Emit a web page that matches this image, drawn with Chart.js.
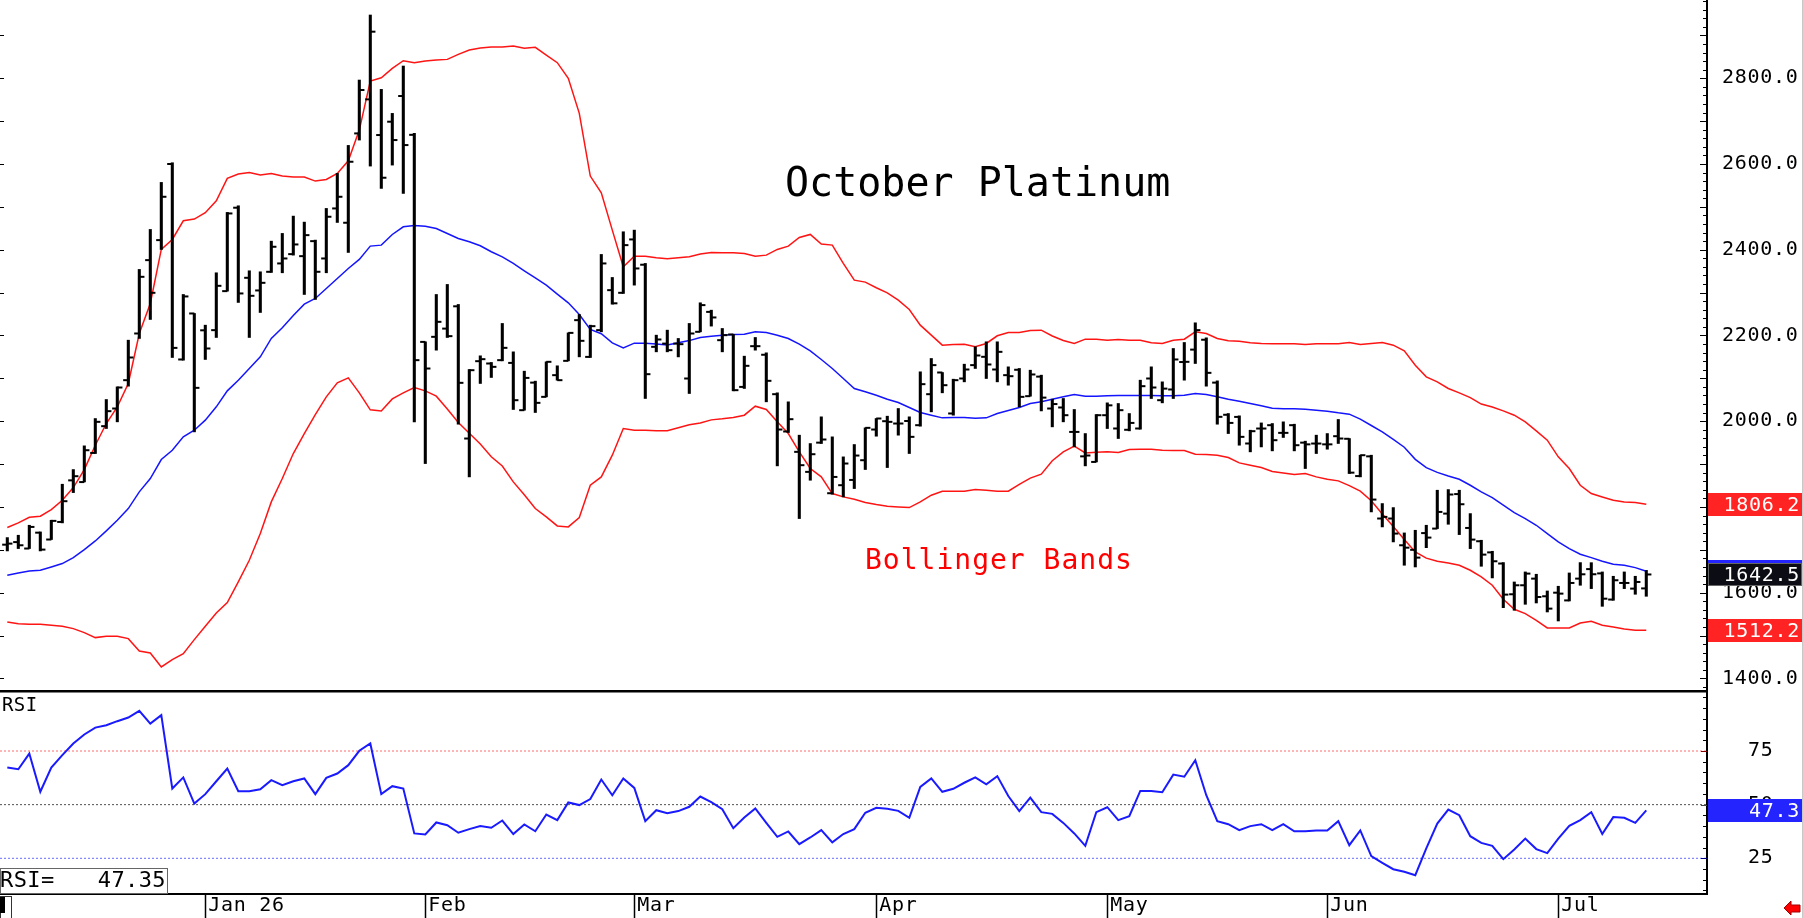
<!DOCTYPE html>
<html>
<head>
<meta charset="utf-8">
<title>October Platinum</title>
<script src="https://cdn.jsdelivr.net/npm/chart.js@4.4.1/dist/chart.umd.min.js"></script>
<style>
html,body{margin:0;padding:0;background:#fff;}
#wrap{position:relative;width:1803px;height:918px;overflow:hidden;background:#fff;}
#pricePane{position:absolute;left:0;top:0;}
#rsiPane{position:absolute;left:0;top:690px;}
</style>
</head>
<body>
<div id="wrap">
  <canvas id="pricePane" width="1803" height="690"></canvas>
  <canvas id="rsiPane" width="1803" height="228"></canvas>
</div>
<script>
/* ==========================================
   DATA (daily bars, index 0 = first bar)
========================================== */
const opens = [
1712,1718,1703,1740,1724,1765,1862,1858,1926,1988.4,2029.6,2095.7,2204.6,2375.7,2422.4,2600,2144,2251.3,2212,2212.4,
2303.4,2498,2334.5,2305,2348.5,2368,2389.7,2385,2420,2379.6,2496.3,2462.9,2671.3,2750.7,2667.5,2698.6,2758.5,2668,2185,2196.8,
2216,2268,1959.6,2140,2134.6,2142.4,2136,2025.7,2090,2056.8,2107.4,2140.8,2235.7,2150,2212.4,2305.7,2299.5,2424,2365,2173.5,
2181,2181,2099.6,2208.5,2255,2189,2202.3,2080,2175,2155,2063,1976,1928.5,1881.8,1950,1832,1850.7,1863,1909,1980.6,
2000,1994.6,2000.5,1990.7,2063,2113.6,2018,2099.6,2130.8,2150.2,2120.6,2107.4,2120,2058.4,2104,2029.6,2032,1975,1918,1905,
2014,1983,1980,1983,2099.6,2049,2074,2138,2167,2190,2090,2015,2010,1948,1982.9,1990.7,1972.8,1990.7,1950,1947.9,
1946,1965,1959,1872,1918,1773,1773,1710.6,1700,1739,1749.5,1784.5,1830,1751,1720,1694,1668,1596.3,1617.3,1632.8,
1591.6,1600,1582,1632.8,1655,1645,1584,1622.7,1609.5,1610
];
const highs = [
1728.5,1734,1757.3,1741.7,1769,1853,1887.2,1942.5,2006.2,2050.6,2080.1,2189,2354,2447.3,2557,2602.9,2295.6,2251.3,2224,2346.2,
2487,2502.5,2350.9,2348.5,2420,2438,2478.4,2464.4,2422.4,2496.3,2578,2643.3,2795.8,2947.5,2774,2718,2828.5,2671.3,2185.2,2295.6,
2319,2272.3,2120.6,2152.5,2137,2228,2161.8,2116.7,2093.4,2138.5,2129.2,2206,2248.9,2224,2389,2335.3,2441.9,2445.7,2368,2200.7,
2212.4,2193,2228,2276.2,2259,2216.3,2202.3,2151.7,2195.3,2159.5,2066.2,2045.2,1967.4,1947.9,2010.2,1963.5,1916.8,1945.6,1984.5,2006.3,
2011.7,2029.6,2010.2,2115.2,2146.3,2113.6,2098,2133,2173.5,2185.2,2185.2,2126.8,2123,2119,2107.4,2051.4,2053,2027.3,1971.2,2015.6,
2042.8,2041.3,2017.9,2095.7,2126.8,2091.8,2169.6,2183.6,2229.5,2194.5,2094.1,2017.9,2012.5,1979,1996,1994.6,1998.5,1993,1953.4,1967.4,
1971.2,2004,1959.6,1920.7,1920.7,1807.9,1798.5,1739.4,1745.6,1757.3,1839,1840.5,1839,1784.5,1722.3,1696.6,1670.2,1625,1648.4,1643,
1604,1615,1646,1670.2,1670,1648.4,1638.3,1648.4,1638.3,1652
];
const lows = [
1697.4,1702.9,1703,1697.4,1724,1762.8,1833.5,1858.4,1924.6,1983,1998.5,2081.7,2193,2237.3,2400.6,2148.6,2142.4,1975.1,2144,2195.3,
2303.4,2277,2195.3,2253.6,2347,2346.2,2387.4,2295.6,2284,2346.2,2463.6,2393.6,2655.8,2595.1,2543,2597.4,2531.3,1998.5,1901.2,2165.7,
2195.3,1993,1870.1,2088,2102,2140.8,2027.3,2025.7,2020.3,2056.8,2095.7,2140.8,2150.1,2148.6,2208.5,2273,2298,2317.4,2053,2161.8,
2161.8,2150,2064.6,2208.5,2221.8,2161.8,2070.8,2076.3,2165.7,2045.2,1895.8,1973.6,1772.9,1862.3,1948,1829.7,1823.5,1842.9,1887.3,1965,
1891.9,1967.4,1924.6,1988.4,2021.8,2066.2,2014,2091.8,2123,2099.6,2091.8,2084,2033.5,2058.4,2024,1986.8,1998.5,1940.1,1895.8,1905,
1982.9,1959.6,1977.5,1981.4,2052.9,2042.8,2052.9,2095.7,2134.6,2081.7,1993,1971.2,1944,1928.5,1940,1930.8,1962,1930.8,1889.6,1924.6,
1934.7,1948,1877.9,1870.1,1788.4,1753.4,1718.4,1664,1660,1705,1749.5,1759.6,1735.5,1702.8,1661.6,1634.4,1565.1,1559,1572.9,1576,
1555,1534,1580.7,1617.3,1609.5,1568.2,1582.3,1609.5,1596.3,1591.6
];
const closes = [
1714.5,1710.6,1753.4,1700.5,1767.5,1813.4,1871.7,1932.3,1998.5,2023.4,2078.6,2148.6,2336.8,2299.5,2523.5,2171,2291,2077.8,2169.6,2315.8,
2484.6,2298,2292.5,2322.8,2406.9,2379.6,2412.3,2434,2348.5,2476.9,2523.5,2605.2,2772.5,2908.6,2567.9,2655.8,2644.1,2142.4,2122.9,2231.8,
2198.4,2089.5,2119,2144.7,2126.8,2171.1,2049,2101,2042.8,2138.5,2095.7,2206,2187.5,2221.7,2368,2275,2410.7,2356.3,2109.7,2190.6,
2165.7,2179.7,2204.6,2270.8,2242,2200.7,2072.4,2129.2,2175,2094.2,1980.6,2004.7,1897.4,1923,1957.3,1870,1901.3,1919.9,1984.5,2006.3,
1998.5,1994.6,1963.5,2086.4,2130.8,2084,2095.7,2120.6,2153.3,2132.3,2161.8,2105,2056.8,2109,2055,2040,2014,1975,1920,2014,
2037,2025.7,1996,2081.7,2078.6,2076,2144,2138.5,2212.4,2112.8,2010.2,1996,1963.5,1976.7,1982.9,1955.7,1972.8,1944,1946,1947.9,
1946,1959.6,1880,1920.7,1817.2,1776.8,1737.9,1705,1681.8,1728.5,1788.4,1829,1806.3,1723.8,1688.8,1673.3,1595.5,1617.3,1644.5,1590,
1562.8,1597.8,1622.7,1642.9,1643,1586,1629,1622.7,1625,1642.5
];
const upperBand = [
1751.9,1762.8,1776,1778.3,1793.9,1815.7,1845.2,1887.2,1944,1994.6,2033.5,2088,2204.6,2274.6,2400.6,2424,2467.5,2471.4,2486.2,2514.2,
2566.3,2576.4,2580.3,2574.1,2578,2571.8,2569.4,2569.4,2560.1,2564,2578,2607.5,2679.1,2793.5,2801.2,2823,2840.9,2836.3,2840.1,2842.5,
2844,2855.7,2865.8,2870.5,2872.8,2872.8,2875.2,2869.7,2872,2854.1,2836.3,2799.7,2718,2571.8,2532.9,2445.7,2360.2,2385,2385,2381.2,
2378.9,2381.2,2383.5,2389.8,2393.7,2392.9,2392.9,2391.3,2385,2387.4,2400.7,2408.4,2428.7,2435.7,2413.1,2410.8,2368,2329.1,2324.4,2311.2,
2299.5,2282.4,2260.6,2224,2200.7,2177.4,2179,2179.7,2173.5,2181.3,2199.2,2207,2207,2211.6,2212.4,2198.8,2188.2,2181.3,2191.4,2191.4,
2189,2190.6,2189,2189,2182.8,2181.3,2189,2191.4,2208.5,2204.6,2193,2187.5,2186.7,2182.8,2181.3,2180.5,2180.5,2180.5,2179,2180.5,
2180.5,2180.5,2183.6,2179,2181.3,2183.6,2177.4,2164.2,2130.7,2103.5,2091.8,2076.3,2066,2055,2040,2033,2024,2014,1998.4,1977.4,
1955.7,1916.8,1889.5,1850.6,1831.2,1823.4,1815.6,1811.7,1810.5,1806.2
];
const middleBand = [
1640.6,1646,1650.7,1652.3,1660,1667.9,1681.9,1700.5,1720.7,1744.1,1769,1796.2,1835.1,1866.2,1910.6,1932.3,1963.5,1979,2002.4,2033.5,
2070.8,2095.7,2123,2150.2,2193,2218,2246.5,2273,2286.3,2309.6,2333,2356.3,2377.3,2408.4,2410.7,2435.6,2453.5,2456.6,2455,2449.6,
2437.9,2426.3,2418.5,2409.2,2395.2,2383.5,2368,2350.9,2334.5,2317.4,2296.4,2276.2,2249,2214,2204,2182.8,2171.1,2182,2182,2180,
2178,2182.8,2188,2195.3,2198.4,2200.7,2202.3,2203.1,2208.5,2207,2200.7,2193,2179.7,2164.2,2144,2123,2099.6,2076.3,2068.5,2060.7,
2051.4,2043.6,2032,2020.3,2014.1,2007.8,2008.6,2008.6,2007,2007.8,2018,2025,2032,2041.3,2045.2,2051.4,2056.8,2062.3,2058.4,2058.4,
2059.1,2059.9,2059.9,2059.9,2059.9,2059.1,2059.1,2060.7,2064.6,2062.3,2056.8,2051.4,2046.7,2041.3,2035.8,2030.4,2028.8,2028.8,2028,2025.7,
2023.4,2019.5,2016.4,2004.7,1990,1975,1957.5,1939.3,1911,1891.5,1880.6,1872,1864.6,1850.6,1835.1,1821.9,1804,1786.8,1772.8,1757.3,
1737.8,1718.4,1702.8,1689.6,1681.8,1673.3,1666.3,1664,1658.5,1650.2
];
const lowerBand = [
1531.7,1527.8,1526.3,1526.3,1523.9,1521.6,1516.2,1506.8,1495.2,1498.3,1498.3,1492.8,1464,1459.4,1426.7,1443.8,1457.8,1490.5,1521.6,1552.7,
1576.8,1625.1,1675.6,1737.9,1811.8,1866.2,1924.6,1971.2,2015.6,2056.8,2089.5,2101.2,2066.1,2026.5,2023.8,2052,2066.1,2078.6,2070.8,2058.4,
2028.5,1997,1972,1947,1917,1895.5,1858.4,1828.5,1796.2,1776.8,1755.7,1753.4,1775.2,1850.7,1870.1,1920.7,1982.9,1979,1979,1977.5,
1977.5,1984.5,1991.5,1995.7,2003.1,2005.5,2008.6,2014,2035,2027.3,1998.5,1971.3,1928.5,1889.6,1870.1,1831.2,1823.5,1818,1810.3,1805.6,
1801.7,1800.1,1798.6,1811.8,1827.4,1836.7,1836.7,1836.7,1840.6,1839,1836.7,1836.7,1852.6,1867.3,1876.4,1907.8,1928.5,1941.7,1926.1,1927.7,
1928.5,1927,1933.9,1934.7,1934.7,1932.3,1931.6,1931.6,1923,1922.2,1920.7,1915.2,1902.8,1897.3,1891.9,1882.6,1879.4,1875.6,1877.9,1870.1,
1864.7,1860.8,1849.8,1837,1814.5,1783.4,1754.6,1724.2,1695,1680.6,1673.3,1669,1663.9,1652.3,1636.7,1617.3,1584.6,1561.3,1551.1,1535.6,
1517.7,1517.7,1517.7,1529.4,1533.3,1523.9,1520,1515.4,1512.5,1512.2
];
const rsiValues = [
67.3,66.5,73.8,56,67.3,73.1,78.5,82.7,85.9,87,88.9,90.6,93.7,87.8,91.7,57.5,62.7,50.5,54.9,60.9,
66.8,56.3,56.3,57.2,61.4,59.1,60.9,62.2,54.9,62.5,64.5,68.4,75.1,78.5,54.9,58.6,57.5,36.6,36.1,41.7,
40.4,36.9,38.6,40,39.2,42.6,36.3,40.8,37.6,45.4,42.8,51,49.8,52.6,61.7,54.4,62.2,57.8,42.3,47.4,
46,47,49,53.8,51.2,47.9,39,44,48.2,41.5,35,37.5,31.6,34.7,38.1,32.4,36.3,38.6,46.2,48.5,
48.1,47.1,43.9,58.3,62.2,56,57.4,60.2,62.7,59.5,63.3,54,47,53.3,46.5,45.7,41.5,36.6,30.8,46.5,
48.8,42.8,44.6,56.4,56.4,55.8,64,63,70.7,54.4,42.3,40.9,38.1,40,40.9,38.1,40.9,37.6,37.6,38,
38,42.3,31.1,38,26,22.9,19.9,18.7,17.1,29.6,41.2,47.7,45.1,35.3,32.2,30.8,24.6,29.1,34.2,29.3,
27.4,34.2,40.1,42.8,46.5,36.3,44.2,43.9,41.5,47.35
];
const monthStarts = [18, 38, 57, 79, 100, 120, 141];
const monthLabels = ["Jan 26", "Feb", "Mar", "Apr", "May", "Jun", "Jul"];
const priceLabels = [1400, 1600, 1800, 2000, 2200, 2400, 2600, 2800];
const rsiLevels = [75, 50, 25];

const X_MIN = -0.664;
const X_MAX = 154.52;
const FONT = "DejaVu Sans Mono";
const AXIS_X = 1707;

const state = { charts:{} };

function pts(arr, shift){
  return arr.map((v,i)=>({ x:i + (shift||0), y:v }));
}

function hline(ctx, x1, x2, y){
  ctx.beginPath();
  ctx.moveTo(x1, y);
  ctx.lineTo(x2, y);
  ctx.stroke();
}

// one decimal, cut not rounded (the side boxes show 47.3 for 47.35)
function cut1(v){
  return (Math.floor(v * 10 + 1e-6) / 10).toFixed(1);
}

// stop chart.js from reserving room above/below the plot for the labels
function noPad(s){
  s.paddingTop = 0;
  s.paddingBottom = 0;
  s.paddingLeft = 0;
  s.paddingRight = 0;
}

function valueBox(ctx, y, text, fill, stroke){
  const top = Math.round(y - 11.5);
  ctx.save();
  ctx.fillStyle = fill;
  ctx.fillRect(AXIS_X + 1, top, 94, 23);
  if(stroke){
    ctx.strokeStyle = stroke;
    ctx.lineWidth = 1;
    ctx.strokeRect(AXIS_X + 1.5, top + 0.5, 93, 22);
  }
  ctx.fillStyle = "#fff";
  ctx.font = "20px '" + FONT + "'";
  ctx.letterSpacing = "0.7px";
  ctx.textAlign = "right";
  ctx.textBaseline = "middle";
  ctx.fillText(text, 1800, top + 12.5);
  ctx.restore();
}

/* ==========================================
   PRICE PANEL DECORATION
========================================== */
const priceDecor = {
  id:"priceDecor",
  beforeDraw(chart){
    chart.ctx.letterSpacing = "0.7px";
  },
  afterDraw(chart){
    const ctx = chart.ctx;
    const y = chart.scales.y;
    ctx.save();
    ctx.strokeStyle = "#000";
    ctx.lineWidth = 1;
    for(let v = 1380; v <= 2980; v += 20){
      const py = Math.round(y.getPixelForValue(v)) + 0.5;
      const len = v % 100 === 0 ? 7 : 4;
      hline(ctx, AXIS_X - len, AXIS_X, py);
    }
    for(let v = 1400; v <= 2900; v += 100){
      const py = Math.round(y.getPixelForValue(v)) + 0.5;
      hline(ctx, 0, 4, py);
    }
    ctx.strokeStyle = "#c8c8c8";
    ctx.beginPath();
    ctx.moveTo(1802.5, 0);
    ctx.lineTo(1802.5, 690);
    ctx.stroke();

    ctx.letterSpacing = "0px";
    ctx.fillStyle = "#000";
    ctx.font = "40px '" + FONT + "'";
    ctx.textAlign = "left";
    ctx.textBaseline = "alphabetic";
    ctx.fillText("October Platinum", 785, 196);

    ctx.letterSpacing = "1px";
    ctx.fillStyle = "#ff0000";
    ctx.font = "28px '" + FONT + "'";
    ctx.fillText("Bollinger Bands", 865, 569);
    ctx.restore();

    const last = closes.length - 1;
    valueBox(ctx, y.getPixelForValue(upperBand[last]), cut1(upperBand[last]), "#ff2323");
    valueBox(ctx, y.getPixelForValue(middleBand[last]), cut1(middleBand[last]), "#2424ff");
    valueBox(ctx, y.getPixelForValue(lowerBand[last]), cut1(lowerBand[last]), "#ff2323");
    valueBox(ctx, y.getPixelForValue(closes[last]), cut1(closes[last]), "#0c0c14", "#666");
  }
};

/* ==========================================
   RSI PANEL DECORATION
========================================== */
const rsiDecor = {
  id:"rsiDecor",
  beforeDraw(chart){
    chart.ctx.letterSpacing = "0.7px";
  },
  afterDraw(chart){
    const ctx = chart.ctx;
    const y = chart.scales.y;
    ctx.save();
    ctx.strokeStyle = "#000";
    ctx.lineWidth = 1;
    for(let v = 10; v <= 100; v += 5){
      const py = Math.round(y.getPixelForValue(v)) + 0.5;
      hline(ctx, AXIS_X - 4, AXIS_X, py);
    }
    const lvlColor = { 75:"#800000", 50:"#444", 25:"#000080" };
    rsiLevels.forEach(l=>{
      ctx.strokeStyle = lvlColor[l];
      hline(ctx, AXIS_X - 6, AXIS_X, Math.round(y.getPixelForValue(l)) + 0.5);
    });

    // panel divider
    ctx.strokeStyle = "#000";
    ctx.lineWidth = 2.5;
    hline(ctx, 0, AXIS_X, 1.25);

    ctx.strokeStyle = "#c8c8c8";
    ctx.lineWidth = 1;
    ctx.beginPath();
    ctx.moveTo(1802.5, 0);
    ctx.lineTo(1802.5, 228);
    ctx.stroke();

    ctx.letterSpacing = "0.4px";
    ctx.fillStyle = "#000";
    ctx.font = "19px '" + FONT + "'";
    ctx.textAlign = "left";
    ctx.textBaseline = "alphabetic";
    ctx.fillText("RSI", 2, 21);

    // value box bottom left
    ctx.fillStyle = "#fff";
    ctx.fillRect(0, 178, 168, 25);
    ctx.strokeStyle = "#666";
    ctx.strokeRect(0.5, 178.5, 167, 25);
    ctx.fillStyle = "#000";
    ctx.font = "22px '" + FONT + "'";
    ctx.fillText("RSI=", 0, 197);
    ctx.textAlign = "right";
    ctx.fillText(rsiValues[rsiValues.length - 1].toFixed(2), 166, 197);

    // small box bottom left
    ctx.strokeStyle = "#333";
    ctx.strokeRect(0.5, 206.5, 11, 22);
    ctx.fillStyle = "#000";
    ctx.fillRect(0, 207, 5, 16);

    // red arrow bottom right
    ctx.fillStyle = "#ff0000";
    ctx.strokeStyle = "#a00000";
    ctx.beginPath();
    ctx.moveTo(1784, 218);
    ctx.lineTo(1791, 211);
    ctx.lineTo(1791, 215);
    ctx.lineTo(1800, 215);
    ctx.lineTo(1800, 222);
    ctx.lineTo(1791, 222);
    ctx.lineTo(1791, 225);
    ctx.closePath();
    ctx.fill();
    ctx.stroke();
    ctx.restore();

    const lastRsi = rsiValues[rsiValues.length - 1];
    valueBox(ctx, y.getPixelForValue(lastRsi), cut1(lastRsi), "#2424ff");
  }
};

/* ==========================================
   PRICE CHART
========================================== */
function renderPriceChart(){

  state.charts.price = new Chart(
    document.getElementById("pricePane"),
    {
      type:"line",
      data:{
        datasets:[
          {
            type:"bar",
            label:"High-Low",
            data:highs.map((h,i)=>({ x:i, y:[lows[i], h] })),
            backgroundColor:"#000",
            borderWidth:0,
            barThickness:2.4,
            grouped:false
          },
          {
            type:"scatter",
            label:"Open",
            data:pts(opens, -0.23),
            pointStyle:"line",
            pointRadius:2.6,
            pointBorderWidth:2,
            pointBorderColor:"#000"
          },
          {
            type:"scatter",
            label:"Close",
            data:pts(closes, 0.23),
            pointStyle:"line",
            pointRadius:2.6,
            pointBorderWidth:2,
            pointBorderColor:"#000"
          },
          {
            label:"Upper",
            data:pts(upperBand),
            borderColor:"#ff1414",
            borderWidth:1.5,
            pointRadius:0,
            tension:0
          },
          {
            label:"Middle",
            data:pts(middleBand),
            borderColor:"#1414ff",
            borderWidth:1.5,
            pointRadius:0,
            tension:0
          },
          {
            label:"Lower",
            data:pts(lowerBand),
            borderColor:"#ff1414",
            borderWidth:1.5,
            pointRadius:0,
            tension:0
          }
        ]
      },
      options:{
        responsive:false,
        animation:false,
        devicePixelRatio:1,
        events:[],
        layout:{ padding:0, autoPadding:false },
        plugins:{ legend:{ display:false }, tooltip:{ enabled:false } },
        scales:{
          x:{
            type:"linear",
            min:X_MIN,
            max:X_MAX,
            offset:false,
            display:false
          },
          y:{
            position:"right",
            min:1373,
            max:2982.5,
            afterBuildTicks:s=>{ s.ticks = priceLabels.map(v=>({ value:v })); },
            afterFit:s=>{ s.width = 1803 - AXIS_X; noPad(s); },
            grid:{ display:false, drawTicks:false },
            border:{ display:true, color:"#000", width:2 },
            ticks:{
              autoSkip:false,
              padding:15,
              color:"#000",
              font:{ family:FONT, size:20 },
              callback:v=> Number(v).toFixed(1)
            }
          }
        }
      },
      plugins:[priceDecor]
    }
  );

}

/* ==========================================
   RSI CHART
========================================== */
function renderRsiChart(){

  const levelColors = { 75:"#ff6a6a", 50:"#505050", 25:"#6a6aff" };

  const levelSets = rsiLevels.map(l=>({
    label:"L" + l,
    data:[ { x:X_MIN, y:l }, { x:X_MAX, y:l } ],
    borderColor:levelColors[l],
    borderWidth:1,
    borderDash:[2,2],
    pointRadius:0
  }));

  state.charts.rsi = new Chart(
    document.getElementById("rsiPane"),
    {
      type:"line",
      data:{
        datasets:[
          {
            label:"RSI",
            data:pts(rsiValues),
            borderColor:"#1a1aff",
            borderWidth:2,
            pointRadius:0,
            tension:0
          }
        ].concat(levelSets)
      },
      options:{
        responsive:false,
        animation:false,
        devicePixelRatio:1,
        events:[],
        layout:{ padding:0, autoPadding:false },
        plugins:{ legend:{ display:false }, tooltip:{ enabled:false } },
        scales:{
          x:{
            type:"linear",
            min:X_MIN,
            max:X_MAX,
            offset:false,
            afterBuildTicks:s=>{ s.ticks = monthStarts.map(v=>({ value:v })); },
            afterFit:s=>{ s.height = 24; noPad(s); },
            grid:{
              display:true,
              drawOnChartArea:false,
              drawTicks:true,
              tickLength:24,
              tickColor:"#000",
              tickWidth:1.5
            },
            border:{ display:true, color:"#000", width:2 },
            ticks:{
              autoSkip:false,
              maxRotation:0,
              align:"start",
              labelOffset:3,
              padding:-24.5,
              color:"#000",
              font:{ family:FONT, size:20 },
              callback:v=> monthLabels[monthStarts.indexOf(v)]
            }
          },
          y:{
            position:"right",
            min:8.36,
            max:103.43,
            afterFit:s=>{ s.width = 1803 - AXIS_X; noPad(s); },
            afterBuildTicks:s=>{ s.ticks = rsiLevels.map(v=>({ value:v })); },
            grid:{ display:false, drawTicks:false },
            border:{ display:true, color:"#000", width:2 },
            ticks:{
              autoSkip:false,
              padding:41,
              color:"#000",
              font:{ family:FONT, size:20 },
              callback:v=> String(v)
            }
          }
        }
      },
      plugins:[rsiDecor]
    }
  );

}

renderPriceChart();
renderRsiChart();
</script>
</body>
</html>
